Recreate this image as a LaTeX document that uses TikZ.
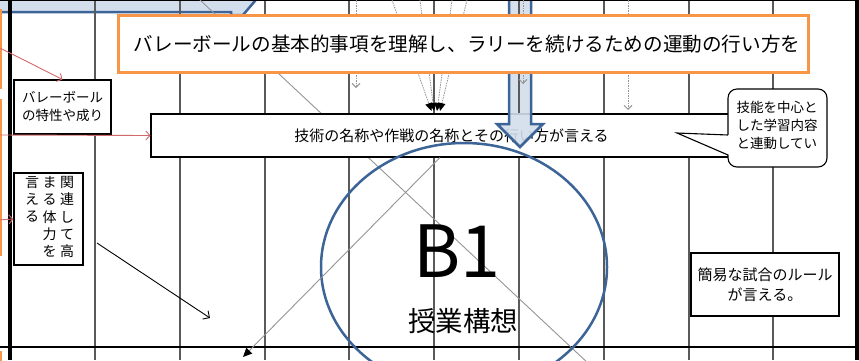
\documentclass[tikz,border=0pt]{standalone}
\usepackage{fontspec}
\setmainfont{Noto Sans CJK JP}
\usetikzlibrary{arrows.meta}
\definecolor{gridc}{HTML}{5A5A5A}
\definecolor{orng}{HTML}{F79646}
\definecolor{bfill}{HTML}{D3DEEC}
\definecolor{bdraw}{HTML}{3D6496}
\definecolor{redc}{HTML}{D06A6A}
\definecolor{diagc}{HTML}{959595}
\begin{document}
\begin{tikzpicture}[x=1pt,y=-1pt,
  gridline/.style={draw=gridc, line width=1.2pt},
  box/.style={draw=black, fill=white, line width=1.1pt, inner sep=0pt, align=center},
  obox/.style={draw=orng, fill=white, line width=3pt, inner sep=0pt},
  edgeorange/.style={draw=orng, line width=2pt},
  diagline/.style={draw=diagc, line width=0.9pt},
  dotarrow/.style={draw=diagc, line width=0.9pt, dash pattern=on 1.5pt off 1pt, -{Straight Barb[length=4pt,width=8pt]}},
  convarrow/.style={draw=diagc, line width=0.8pt, dash pattern=on 1.5pt off 1pt, -{Triangle[length=8pt,width=7pt,color=black]}},
  redarrow/.style={draw=redc, line width=0.9pt, -{Straight Barb[length=4pt,width=9pt]}},
  blockarrow/.style={fill=bfill, fill opacity=0.9, draw=bdraw, line width=2.5pt, line join=miter},
  vcol/.style={inner sep=0pt, align=center, font=\fontsize{14pt}{17.4pt}\selectfont},
  smalltext/.style={font=\fontsize{13.5pt}{18pt}\selectfont}]
\useasboundingbox (0,0) rectangle (859,360);
\clip (0,0) rectangle (859,360);
\fill[white] (0,0) rectangle (859,360);

% top-left blue shape
\path[fill=bfill, draw=bdraw, line width=2.5pt] (-5,-5) -- (260,-5) -- (243,15) -- (231,15) -- (231,12) -- (-5,12) -- cycle;

% blue block arrow (full)
\path[blockarrow] (509,-5) -- (531,-5) -- (531,124) -- (543,124) -- (520,147) -- (497,124) -- (509,124) -- cycle;

% grid
\foreach \gx in {95,180,265,349,434,519,604,689,773}
  \draw[gridline] (\gx,0) -- (\gx,360);
\draw[black, line width=1.4pt] (0,0.7) -- (859,0.7);
\draw[black, line width=1.3pt] (0,347) -- (859,347);
\draw[black, line width=3.5pt] (10,0) -- (10,360);
\draw[black, line width=3.5pt] (857,0) -- (857,360);

% left orange edges (boxes beyond the left margin)
\draw[edgeorange] (-20,10) rectangle (1,88);
\draw[edgeorange] (-20,100) rectangle (1,255);
\draw[edgeorange] (-20,352) rectangle (1,420);

% long diagonal
\coordinate (d1s) at (200,0);
\coordinate (d1e) at (590,365);
\draw[diagline] (d1s) -- (d1e);

% dotted arrows
\coordinate (p1s) at (356,0); \coordinate (p1e) at (356,88);
\coordinate (p2s) at (523,0); \coordinate (p2e) at (523,84);
\coordinate (p3s) at (628,0); \coordinate (p3e) at (628,110);
\draw[dotarrow] (p1s) -- (p1e);
\draw[dotarrow] (p2s) -- (p2e);
\draw[dotarrow] (p3s) -- (p3e);

% converging arrows
\coordinate (c1s) at (392,0); \coordinate (c1e) at (431.5,111);
\coordinate (c2s) at (420,0); \coordinate (c2e) at (434,111);
\coordinate (c3s) at (452,0); \coordinate (c3e) at (437,111);
\coordinate (c4s) at (467,0); \coordinate (c4e) at (440,111);
\draw[convarrow] (c1s) -- (c1e);
\draw[convarrow] (c2s) -- (c2e);
\draw[convarrow] (c3s) -- (c3e);
\draw[convarrow] (c4s) -- (c4e);

% main orange box
\node[obox, minimum width=690pt, minimum height=57pt] (goal) at (463,43.5) {};
\node[font=\fontsize{19.6pt}{22pt}\selectfont, inner sep=0pt] (goaltxt) at (467,44) {バレーボールの基本的事項を理解し、ラリーを続けるための運動の行い方を};

% boxes
\node[box, minimum width=97pt, minimum height=54pt, smalltext] (bal) at (62.5,107) {バレーボール\\の特性や成り};
\node[box, minimum width=601pt, minimum height=43pt, font=\fontsize{15pt}{18pt}\selectfont] (tech) at (451.5,135.5) {技術の名称や作戦の名称とその行い方が言える};
\node[box, minimum width=69pt, minimum height=92pt] (vt) at (48.5,219) {};
\node[vcol, anchor=north] (vc1) at (67,176) {関\\連\\し\\て\\高};
\node[vcol, anchor=north] (vc2) at (49.5,176) {ま\\る\\体\\力\\を};
\node[vcol, anchor=north] (vc3) at (32,176) {言\\え\\る};
\node[box, minimum width=148pt, minimum height=63pt, font=\fontsize{15pt}{20pt}\selectfont] (rule) at (765,284.5) {簡易な試合のルール\\が言える。};

% arrowhead of block arrow over the technique box
\fill[bfill, fill opacity=0.9] (509,113) -- (509,124) -- (497,124) -- (520,147) -- (543,124) -- (531,124) -- (531,113) -- cycle;
\draw[bdraw, line width=2.5pt, line join=miter] (509,113) -- (509,124) -- (497,124) -- (520,147) -- (543,124) -- (531,124) -- (531,113);

% circle
\draw[bdraw, line width=2.5pt] (464,267) ellipse [x radius=143, y radius=124];
\node[font=\fontsize{72pt}{72pt}\selectfont, inner sep=0pt] (b1) at (457,251) {B1};
\node[font=\fontsize{27.5pt}{30pt}\selectfont, inner sep=0pt] (plan) at (463,321) {授業構想};

% callout
\node[draw=black, fill=white, line width=1.1pt, rounded corners=9pt, minimum width=99pt, minimum height=78pt, inner sep=0pt] (call) at (777.5,128) {};
\coordinate (tailtip) at (677,133);
\fill[white] (tailtip) -- (729.5,135) -- (729.5,155) -- cycle;
\draw[black, line width=1.1pt] (728,135) -- (tailtip) -- (728,155);
\node[smalltext, align=left, inner sep=0pt] (calltxt) at (777,125) {技能を中心と\\した学習内容\\と連動してい};

% red arrows
\coordinate (r1s) at (-2,47);
\coordinate (r2s) at (-2,135);
\coordinate (r3s) at (-2,220);
\draw[redarrow] (r1s) -- (bal.north);
\draw[redarrow] (r2s) -- (tech.west);
\draw[redarrow] (r3s) -- (vt.west);

% black arrow
\coordinate (k1s) at (97,243);
\coordinate (k1e) at (210,318);
\draw[black, line width=0.9pt, -{Straight Barb[length=5pt,width=10pt]}] (k1s) -- (k1e);

% gray diagonal with filled tip
\coordinate (d2s) at (440,157.5);
\coordinate (d2e) at (243,357);
\draw[diagline, -{Triangle[length=9pt,width=8pt,color=black]}] (d2s) -- (d2e);
\end{tikzpicture}
\end{document}
